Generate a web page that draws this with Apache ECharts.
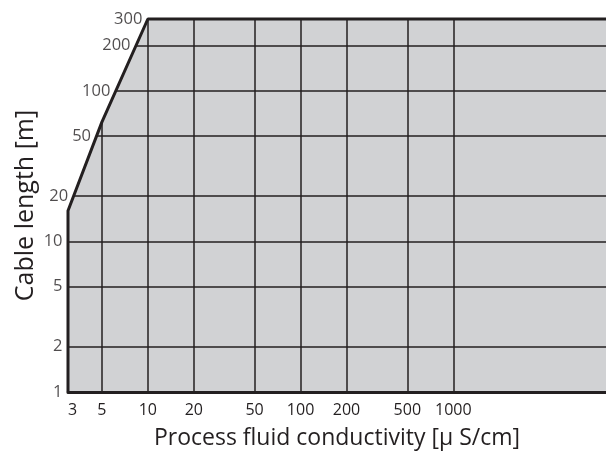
<!DOCTYPE html>
<html>
<head>
<meta charset="utf-8">
<script src="https://cdn.jsdelivr.net/npm/echarts@6/dist/echarts.min.js"></script>
<style>
html,body{margin:0;padding:0;background:#fff;}
#chart{width:606px;height:456px;}
</style>
</head>
<body>
<div id="chart"></div>
<script>
// Tick values (log axes)
const xTicks = [3, 5, 10, 20, 50, 100, 200, 500, 1000];
const yTicks = [1, 2, 5, 10, 20, 50, 100, 200, 300];
// Boundary of the permitted region (conductivity, cable length)
const boundaryX = [3, 3, 5, 10, 10000];
const boundaryY = [1, 16, 62, 300, 300];

const xTitle = 'Process fluid conductivity [μ S/cm]';
const yTitle = 'Cable length [m]';

const ink = '#231f20';
const fill = '#d1d2d4';
const font = 'Open Sans';

const boundary = boundaryX.map((x, i) => [x, boundaryY[i]]);
const xMin = boundaryX[0], yMax = Math.max(...boundaryY);
// inner grid lines (the outer edges are drawn by the boundary itself)
const xGrid = xTicks.filter(v => v !== xMin);
const yGrid = yTicks.filter(v => v !== yMax);

// x position of the boundary at a given cable length (log-log interpolation)
function xAtY(v) {
  for (let i = 0; i < boundary.length - 1; i++) {
    const [x0, y0] = boundary[i], [x1, y1] = boundary[i + 1];
    if (y1 > y0 && v >= y0 && v <= y1) {
      const t = (Math.log10(v) - Math.log10(y0)) / (Math.log10(y1) - Math.log10(y0));
      return Math.pow(10, Math.log10(x0) + t * (Math.log10(x1) - Math.log10(x0)));
    }
  }
  return boundary[0][0];
}
const yLabelPts = yTicks.map(v => [xAtY(v), v]);

const chart = echarts.init(document.getElementById('chart'), null, {renderer: 'canvas'});
chart.setOption({
  animation: false,
  backgroundColor: '#ffffff',
  grid: {left: 68, right: 0, top: 19, bottom: 64},
  xAxis: {
    type: 'log', min: 3, max: 10000, logBase: 10, z: 2,
    name: xTitle, nameLocation: 'middle', nameGap: 35,
    nameTextStyle: {fontFamily: font, fontSize: 23, color: ink},
    axisLine: {show: true, onZero: false, lineStyle: {color: ink, width: 3}},
    axisTick: {show: false, customValues: xGrid},
    axisLabel: {customValues: xTicks, formatter: v => String(v), alignMinLabel: 'left',
      fontFamily: font, fontSize: 16, color: ink, margin: 10},
    splitLine: {show: true, lineStyle: {color: ink, width: 1.5}},
    minorTick: {show: false}, minorSplitLine: {show: false}
  },
  yAxis: {
    type: 'log', min: 1, max: 300, logBase: 10, z: 2,
    name: yTitle, nameLocation: 'middle', nameGap: 30,
    nameTextStyle: {fontFamily: font, fontSize: 25, color: ink},
    axisLine: {show: false},
    axisTick: {show: false, customValues: yGrid},
    axisLabel: {show: false, customValues: yTicks},
    splitLine: {show: true, lineStyle: {color: ink, width: 1.5}},
    minorTick: {show: false}, minorSplitLine: {show: false}
  },
  series: [
    {
      // grey permitted region
      type: 'line',
      data: boundary,
      symbol: 'none',
      clip: false,
      lineStyle: {width: 0},
      areaStyle: {color: fill, opacity: 1, origin: 'start'},
      z: 1
    },
    {
      // boundary line; white above it hides the grid there
      type: 'line',
      data: boundary,
      symbol: 'none',
      clip: false,
      lineStyle: {color: ink, width: 3},
      areaStyle: {color: '#ffffff', opacity: 1, origin: 'end'},
      z: 3
    },
    {
      type: 'scatter',
      data: yLabelPts,
      symbolSize: 1,
      clip: false,
      itemStyle: {color: 'rgba(0,0,0,0)'},
      label: {
        show: true, position: 'left', distance: 5,
        formatter: p => String(p.value[1]),
        fontFamily: font, fontSize: 16.5, color: ink
      },
      z: 4
    }
  ]
});
</script>
</body>
</html>
